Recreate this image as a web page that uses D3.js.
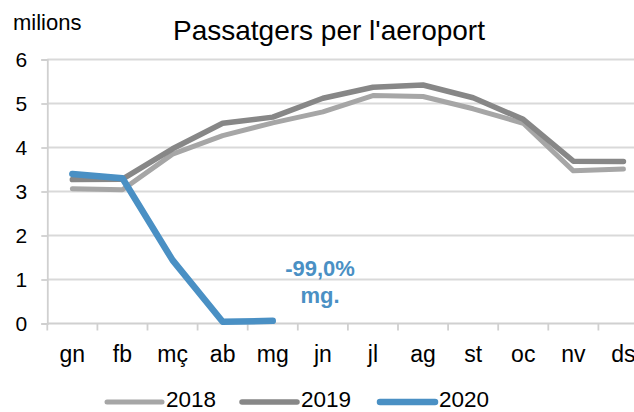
<!DOCTYPE html>
<html>
<head>
<meta charset="utf-8">
<script src="https://cdn.jsdelivr.net/npm/d3@7"></script>
<style>
body{margin:0;background:#fff;}
text{font-family:"Liberation Sans",Arial,sans-serif;}
</style>
</head>
<body>
<div id="chart"></div>
<script>
var months=["gn","fb","mç","ab","mg","jn","jl","ag","st","oc","nv","ds"];
var yTicks=[0,1,2,3,4,5,6];
var years=["2018","2019","2020"];
var values2018=[3.06,3.04,3.85,4.27,4.56,4.81,5.18,5.16,4.88,4.55,3.47,3.51];
var values2019=[3.27,3.28,3.97,4.55,4.69,5.12,5.37,5.42,5.13,4.64,3.69,3.68];
var values2020=[3.40,3.30,1.44,0.04,0.06];
var colors=["#a6a6a6","#878787","#4a90c4"];
var widths=[5,5.5,6.5];

var width=634,height=412;
var plotLeft=47.3,plotBottom=323.5,plotTop=59.5;

var svg=d3.select("#chart").append("svg")
  .attr("width",width)
  .attr("height",height);

var x=d3.scaleBand().domain(months).range([plotLeft,plotLeft+12*50.1]);
var y=d3.scaleLinear().domain([0,6]).range([plotBottom,plotTop]);

// gridlines
svg.selectAll(".grid")
  .data(yTicks.slice(1))
  .enter().append("line")
  .attr("x1",plotLeft).attr("x2",width)
  .attr("y1",function(d){return y(d);})
  .attr("y2",function(d){return y(d);})
  .attr("stroke","#d9d9d9")
  .attr("stroke-width",1.8);

// y axis
var yAxis=svg.append("g")
  .attr("transform","translate("+plotLeft+",0)")
  .call(d3.axisLeft(y).tickValues(yTicks).tickFormat(d3.format("d")).tickSize(6).tickPadding(14));
yAxis.selectAll("line").attr("stroke","#d0d0d0").attr("stroke-width",1.8);
yAxis.select(".domain").attr("stroke","#d0d0d0").attr("stroke-width",1.8);
yAxis.selectAll("text").attr("font-size",21).attr("fill","#000")
  .attr("font-family","'Liberation Sans',Arial,sans-serif");

// x axis
var xAxis=svg.append("g")
  .attr("transform","translate(0,"+plotBottom+")")
  .call(d3.axisBottom(x).tickSize(0).tickPadding(22));
xAxis.select(".domain").remove();
xAxis.selectAll("text").attr("font-size",23).attr("fill","#000")
  .attr("font-family","'Liberation Sans',Arial,sans-serif");
svg.append("line")
  .attr("x1",plotLeft).attr("x2",width)
  .attr("y1",plotBottom).attr("y2",plotBottom)
  .attr("stroke","#d0d0d0").attr("stroke-width",1.8);
svg.selectAll(".xtick")
  .data(months)
  .enter().append("line")
  .attr("x1",function(d){return x(d);})
  .attr("x2",function(d){return x(d);})
  .attr("y1",plotBottom).attr("y2",plotBottom+7)
  .attr("stroke","#d0d0d0").attr("stroke-width",1.8);

// lines
var line=d3.line()
  .x(function(d,i){return x(months[i])+x.bandwidth()/2;})
  .y(function(d){return y(d);});
var series=[values2018,values2019,values2020];
series.forEach(function(s,i){
  svg.append("path")
    .attr("d",line(s))
    .attr("fill","none")
    .attr("stroke",colors[i])
    .attr("stroke-width",widths[i])
    .attr("stroke-linecap","round")
    .attr("stroke-linejoin","round");
});

// title and unit
svg.append("text")
  .attr("x",329).attr("y",40)
  .attr("text-anchor","middle")
  .attr("font-size",28)
  .text("Passatgers per l'aeroport");
svg.append("text")
  .attr("x",13).attr("y",30)
  .attr("font-size",22)
  .text("milions");

// annotation
svg.append("text")
  .attr("x",320).attr("y",276)
  .attr("text-anchor","middle")
  .attr("font-size",22).attr("font-weight","bold")
  .attr("fill","#4a90c4")
  .text("-99,0%");
svg.append("text")
  .attr("x",320).attr("y",303)
  .attr("text-anchor","middle")
  .attr("font-size",22).attr("font-weight","bold")
  .attr("fill","#4a90c4")
  .text("mg.");

// legend
var legendX=[107,242,380];
var legend=svg.selectAll(".legend")
  .data(years)
  .enter().append("g")
  .attr("transform",function(d,i){return "translate("+legendX[i]+",402)";});
legend.append("line")
  .attr("x1",0).attr("x2",55)
  .attr("stroke",function(d,i){return colors[i];})
  .attr("stroke-width",function(d,i){return widths[i];})
  .attr("stroke-linecap","round");
legend.append("text")
  .attr("x",59).attr("y",5)
  .attr("font-size",22.5)
  .text(function(d){return d;});
</script>
</body>
</html>
